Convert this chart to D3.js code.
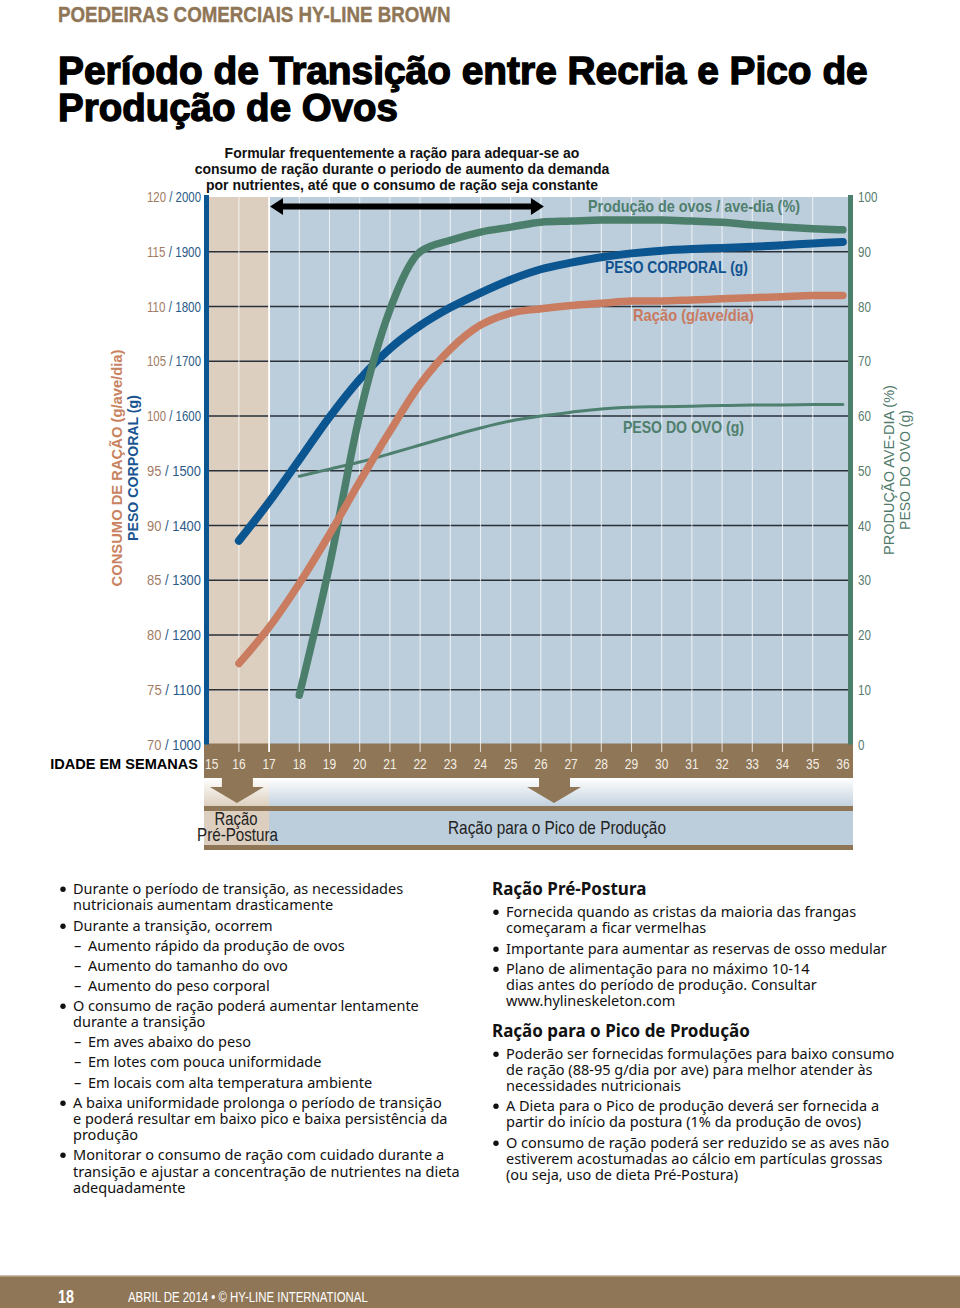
<!DOCTYPE html>
<html>
<head>
<meta charset="utf-8">
<script src="https://cdn.jsdelivr.net/npm/d3@7"></script>
<style>
  body { margin: 0; background: #fff; }
  svg { display: block; }
</style>
</head>
<body>
<script>
// Hy-Line Brown: transition period chart (recria -> pico de produção)

// weeks on the x axis
const weekTicks = [15, 16, 17, 18, 19, 20, 21, 22, 23, 24, 25, 26, 27, 28, 29, 30, 31, 32, 33, 34, 35, 36];

// body weight (g) and feed (g/ave/dia), weeks 16-36
const bwWeeks = [16, 17, 18, 19, 20, 21, 22, 23, 24, 25, 26, 27, 28, 29, 30, 31, 32, 33, 34, 35, 36];
const bodyWeight = [1372, 1443, 1520, 1598, 1667, 1723, 1765, 1798, 1825, 1849, 1868, 1880, 1890, 1897, 1902, 1905, 1907, 1909, 1912, 1915, 1918];
const feed = [77.4, 80.7, 84.7, 89.2, 94.0, 98.6, 102.9, 106.1, 108.3, 109.4, 109.8, 110.1, 110.3, 110.5, 110.5, 110.6, 110.7, 110.8, 110.9, 111.0, 111.0];

// hen-day production (%) and egg weight (g), weeks 18-36
const prodWeeks = [18, 19, 20, 21, 22, 23, 24, 25, 26, 27, 28, 29, 30, 31, 32, 33, 34, 35, 36];
const production = [9.0, 32.7, 60.2, 79.4, 90.0, 92.1, 93.6, 94.5, 95.4, 95.6, 95.8, 95.8, 95.8, 95.6, 95.4, 94.9, 94.5, 94.2, 94.0];
const eggWeight = [49.0, 50.3, 51.6, 53.1, 54.7, 56.3, 57.8, 59.1, 60.0, 60.7, 61.3, 61.6, 61.7, 61.8, 61.9, 62.0, 62.0, 62.1, 62.1];

// axis tick labels
const feedTicks = [70, 75, 80, 85, 90, 95, 100, 105, 110, 115, 120];
const bwTicks = [1000, 1100, 1200, 1300, 1400, 1500, 1600, 1700, 1800, 1900, 2000];
const rightTicks = [0, 10, 20, 30, 40, 50, 60, 70, 80, 90, 100];

const preLayWeeks = [15, 17];         // Ração Pré-Postura band
const transitionSpan = [17.03, 26.1]; // black double arrow
const arrowWeeks = [16, 26.5];        // brown down arrows

const leftBullets = [
  { t: "Durante o período de transição, as necessidades", lvl: 1 },
  { t: "nutricionais aumentam drasticamente", lvl: 0 },
  { t: "Durante a transição, ocorrem", lvl: 1 },
  { t: "Aumento rápido da produção de ovos", lvl: 2 },
  { t: "Aumento do tamanho do ovo", lvl: 2 },
  { t: "Aumento do peso corporal", lvl: 2 },
  { t: "O consumo de ração poderá aumentar lentamente", lvl: 1 },
  { t: "durante a transição", lvl: 0 },
  { t: "Em aves abaixo do peso", lvl: 2 },
  { t: "Em lotes com pouca uniformidade", lvl: 2 },
  { t: "Em locais com alta temperatura ambiente", lvl: 2 },
  { t: "A baixa uniformidade prolonga o período de transição", lvl: 1 },
  { t: "e poderá resultar em baixo pico e baixa persistência da", lvl: 0 },
  { t: "produção", lvl: 0 },
  { t: "Monitorar o consumo de ração com cuidado durante a", lvl: 1 },
  { t: "transição e ajustar a concentração de nutrientes na dieta", lvl: 0 },
  { t: "adequadamente", lvl: 0 }
];
const leftY = [889, 905, 926, 946, 966, 986, 1006, 1022, 1042, 1062, 1083, 1103, 1119, 1135, 1155, 1172, 1188];

const rightBullets = [
  { t: "Ração Pré-Postura", lvl: 3 },
  { t: "Fornecida quando as cristas da maioria das frangas", lvl: 1 },
  { t: "começaram a ficar vermelhas", lvl: 0 },
  { t: "Importante para aumentar as reservas de osso medular", lvl: 1 },
  { t: "Plano de alimentação para no máximo 10-14", lvl: 1 },
  { t: "dias antes do período de produção. Consultar", lvl: 0 },
  { t: "www.hylineskeleton.com", lvl: 0 },
  { t: "Ração para o Pico de Produção", lvl: 3 },
  { t: "Poderão ser fornecidas formulações para baixo consumo", lvl: 1 },
  { t: "de ração (88-95 g/dia por ave) para melhor atender às", lvl: 0 },
  { t: "necessidades nutricionais", lvl: 0 },
  { t: "A Dieta para o Pico de produção deverá ser fornecida a", lvl: 1 },
  { t: "partir do início da postura (1% da produção de ovos)", lvl: 0 },
  { t: "O consumo de ração poderá ser reduzido se as aves não", lvl: 1 },
  { t: "estiverem acostumadas ao cálcio em partículas grossas", lvl: 0 },
  { t: "(ou seja, uso de dieta Pré-Postura)", lvl: 0 }
];
const rightY = [890, 912, 928, 949, 969, 985, 1001, 1032, 1054, 1070, 1086, 1106, 1122, 1143, 1159, 1175];

const SANS = "'Liberation Sans', Arial, Helvetica, sans-serif";
const BODY = "'Noto Sans', 'Open Sans', sans-serif";
const NARROW = 0.8; // horizontal squeeze used for the condensed labels

const brown = "#8f7656";
const green = "#4b7f6b";
const blue = "#0b5590";
const orange = "#c97c60";

const svg = d3.select("body").append("svg")
    .attr("width", 960)
    .attr("height", 1308);

// condensed text: Liberation Sans squeezed horizontally, optionally fitted to a width
function ctext(o) {
  const t = svg.append("text")
      .attr("x", 0).attr("y", 0)
      .attr("font-family", SANS)
      .attr("font-size", o.size)
      .attr("font-weight", o.weight || "normal")
      .attr("text-anchor", o.anchor || "start")
      .attr("fill", o.fill || "#000");
  if (o.parts) {
    o.parts.forEach(p => t.append("tspan").attr("fill", p.fill).text(p.t));
  } else {
    t.text(o.text);
  }
  let s = o.sx || NARROW;
  if (o.width) s = o.width / t.node().getComputedTextLength();
  t.attr("transform", `translate(${o.x},${o.y})${o.rot ? ` rotate(${o.rot})` : ""} scale(${s},1)`);
  return t;
}

const defs = svg.append("defs");
const gBlue = defs.append("linearGradient").attr("id", "fadeBlue").attr("x1", 0).attr("y1", 0).attr("x2", 0).attr("y2", 1);
gBlue.append("stop").attr("offset", "0%").attr("stop-color", "#ffffff");
gBlue.append("stop").attr("offset", "100%").attr("stop-color", "#c3d2de");
const gBeige = defs.append("linearGradient").attr("id", "fadeBeige").attr("x1", 0).attr("y1", 0).attr("x2", 0).attr("y2", 1);
gBeige.append("stop").attr("offset", "0%").attr("stop-color", "#ffffff");
gBeige.append("stop").attr("offset", "100%").attr("stop-color", "#ddd0bf");

// scales
const plotTop = 197, plotBottom = 744.5;
const x = d3.scaleLinear().domain([15, 36]).range([208.7, 842.9]);
const yRight = d3.scaleLinear().domain([0, 100]).range([plotBottom, plotTop]);
const yFeed = d3.scaleLinear().domain([70, 120]).range([plotBottom, plotTop]);
const yBW = d3.scaleLinear().domain([1000, 2000]).range([plotBottom, plotTop]);
const plotLeft = 209, plotRight = 848;

// header + title
ctext({ x: 58, y: 22, size: 21.5, weight: "bold", fill: brown, width: 393, text: "POEDEIRAS COMERCIAIS HY-LINE BROWN" })
    .attr("stroke", brown).attr("stroke-width", 0.4);

const title = svg.append("g")
    .attr("font-family", SANS).attr("font-weight", "bold").attr("font-size", 38)
    .attr("fill", "#000").attr("stroke", "#000").attr("stroke-width", 1.3);
[["Período de Transição entre Recria e Pico de", 84, 810], ["Produção de Ovos", 120.5, 340]].forEach(([s, y, w]) => {
  const t = title.append("text").attr("x", 0).attr("y", 0).text(s);
  const k = w / t.node().getComputedTextLength();
  t.attr("transform", `translate(58,${y}) scale(${k},1)`);
});

const note = svg.append("text")
    .attr("font-family", SANS).attr("font-weight", "bold").attr("font-size", 14)
    .attr("text-anchor", "middle").attr("fill", "#111");
["Formular frequentemente a ração para adequar-se ao",
 "consumo de ração durante o periodo de aumento da demanda",
 "por nutrientes, até que o consumo de ração seja constante"].forEach((s, i) => {
  note.append("tspan").attr("x", 402).attr("y", 158 + i * 16).text(s);
});

// plot background
svg.append("rect").attr("x", plotLeft).attr("y", plotTop)
    .attr("width", plotRight - plotLeft).attr("height", plotBottom - plotTop)
    .attr("fill", "#bccddb");
svg.append("rect").attr("x", plotLeft).attr("y", plotTop)
    .attr("width", x(preLayWeeks[1]) - plotLeft).attr("height", plotBottom - plotTop)
    .attr("fill", "#dccfbf");

// horizontal grid
svg.append("g").selectAll("line")
    .data(rightTicks.filter(d => d > 0 && d < 100))
    .join("line")
    .attr("x1", plotLeft).attr("x2", plotRight)
    .attr("y1", d => yRight(d)).attr("y2", d => yRight(d))
    .attr("stroke", "#28313a").attr("stroke-width", 1.3);

// brown x band
svg.append("rect").attr("x", 204).attr("y", plotBottom - 1)
    .attr("width", 649).attr("height", 778 - plotBottom + 1)
    .attr("fill", brown);

// vertical week lines (run into the band as ticks)
svg.append("g").selectAll("line")
    .data(weekTicks.filter(d => d > 15 && d < 36))
    .join("line")
    .attr("x1", d => x(d)).attr("x2", d => x(d))
    .attr("y1", plotTop).attr("y2", 752)
    .attr("stroke", "#fff")
    .attr("stroke-opacity", d => d === preLayWeeks[1] ? 1 : 0.7)
    .attr("stroke-width", d => d === preLayWeeks[1] ? 1.8 : 1.1);

// side bars
svg.append("rect").attr("x", 204).attr("y", 195).attr("width", 5).attr("height", plotBottom - 195).attr("fill", blue);
svg.append("rect").attr("x", 848).attr("y", 195).attr("width", 5).attr("height", plotBottom - 195).attr("fill", green);

// x tick labels
svg.append("g").selectAll("text")
    .data(weekTicks)
    .join("text")
    .attr("transform", d => `translate(${d === 15 ? x(d) + 3 : x(d)},769) scale(${NARROW},1)`)
    .attr("text-anchor", "middle")
    .attr("font-family", SANS).attr("font-size", 15)
    .attr("fill", "#f3eee5")
    .text(d => d);

ctext({ x: 198, y: 769, size: 15, weight: "bold", anchor: "end", width: 148, text: "IDADE EM SEMANAS" });

// left tick labels: feed / body weight
feedTicks.forEach((d, i) => {
  ctext({ x: 201, y: yFeed(d) + 5, size: 14.5, anchor: "end", width: 54,
          parts: [{ t: d, fill: "#a27c66" }, { t: " / " + bwTicks[i], fill: "#2b5b88" }] });
});

// right tick labels
svg.append("g").selectAll("text")
    .data(rightTicks)
    .join("text")
    .attr("transform", d => `translate(858,${yRight(d) + 5}) scale(${NARROW},1)`)
    .attr("font-family", SANS).attr("font-size", 14.5)
    .attr("fill", "#587c6e")
    .text(d => d);

// axis titles
ctext({ x: 122, y: 468, rot: -90, size: 15.5, weight: "bold", anchor: "middle", fill: "#c8825f", width: 237, text: "CONSUMO DE RAÇÃO (g/ave/dia)" });
ctext({ x: 138, y: 468, rot: -90, size: 15.5, weight: "bold", anchor: "middle", fill: "#1a5591", width: 146, text: "PESO CORPORAL (g)" });
ctext({ x: 894, y: 470, rot: -90, size: 15.5, anchor: "middle", fill: "#4f7a6a", width: 170, text: "PRODUÇÃO AVE-DIA (%)" });
ctext({ x: 910, y: 470, rot: -90, size: 15.5, anchor: "middle", fill: "#4f7a6a", width: 120, text: "PESO DO OVO (g)" });

// curves
function drawSeries(weeks, vals, y, color, width, curve) {
  const line = d3.line().curve(curve);
  svg.append("path")
      .attr("d", line(weeks.map((w, i) => [x(w), y(vals[i])])))
      .attr("fill", "none")
      .attr("stroke", color)
      .attr("stroke-width", width)
      .attr("stroke-linecap", "round")
      .attr("stroke-linejoin", "round");
}
const smooth = d3.curveCatmullRom.alpha(0.5);
drawSeries(prodWeeks, eggWeight, yRight, "#4e8070", 3, smooth);
drawSeries(bwWeeks, bodyWeight, yBW, blue, 8, smooth);
drawSeries(prodWeeks, production, yRight, green, 7.5, d3.curveMonotoneX);
drawSeries(bwWeeks, feed, yFeed, orange, 7.5, smooth);

// series labels
ctext({ x: 588, y: 212, size: 16, weight: "bold", fill: "#4f7f6d", width: 212, text: "Produção de ovos / ave-dia (%)" });
ctext({ x: 605, y: 273, size: 16, weight: "bold", fill: "#0f5290", width: 143, text: "PESO CORPORAL (g)" });
ctext({ x: 633, y: 321, size: 16, weight: "bold", fill: "#c87a60", width: 121, text: "Ração (g/ave/dia)" });
ctext({ x: 623, y: 433, size: 16, weight: "bold", fill: "#4f7f6d", width: 121, text: "PESO DO OVO (g)" });

// black double arrow
const ax1 = x(transitionSpan[0]), ax2 = x(transitionSpan[1]), ay = 206.5;
svg.append("line").attr("x1", ax1 + 8).attr("x2", ax2 - 8).attr("y1", ay).attr("y2", ay)
    .attr("stroke", "#000").attr("stroke-width", 6);
svg.append("path").attr("d", `M${ax1},${ay} L${ax1 + 13},${ay - 8.5} L${ax1 + 13},${ay + 8.5} Z`).attr("fill", "#000");
svg.append("path").attr("d", `M${ax2},${ay} L${ax2 - 13},${ay - 8.5} L${ax2 - 13},${ay + 8.5} Z`).attr("fill", "#000");

// feed program strip under the axis
svg.append("rect").attr("x", 204).attr("y", 778).attr("width", 649).attr("height", 28).attr("fill", "url(#fadeBlue)");
svg.append("rect").attr("x", 204).attr("y", 778).attr("width", x(preLayWeeks[1]) - 204).attr("height", 28).attr("fill", "url(#fadeBeige)");
svg.append("rect").attr("x", 204).attr("y", 806).attr("width", 649).attr("height", 5).attr("fill", brown);
svg.append("rect").attr("x", 204).attr("y", 811).attr("width", 649).attr("height", 34).attr("fill", "#bccddb");
svg.append("rect").attr("x", 204).attr("y", 811).attr("width", x(preLayWeeks[1]) - 204).attr("height", 34).attr("fill", "#dccfbf");
svg.append("rect").attr("x", 204).attr("y", 845).attr("width", 649).attr("height", 5).attr("fill", brown);

svg.append("g").selectAll("path")
    .data(arrowWeeks)
    .join("path")
    .attr("d", w => {
      const c = x(w) - 2;
      return `M${c - 15},777 L${c + 16},777 L${c + 16},787 L${c + 27},787 L${c},803 L${c - 27},787 L${c - 15},787 Z`;
    })
    .attr("fill", brown);

ctext({ x: 236, y: 824.5, size: 17.5, anchor: "middle", fill: "#222", width: 43, text: "Ração" });
ctext({ x: 237.5, y: 841, size: 17.5, anchor: "middle", fill: "#222", width: 81, text: "Pré-Postura" });
ctext({ x: 448, y: 834, size: 17.5, fill: "#222", width: 218, text: "Ração para o Pico de Produção" });

// bullet text columns
function drawColumn(items, ys, x0) {
  const g = svg.append("g").attr("font-family", BODY).attr("font-size", 14.5).attr("fill", "#111");
  items.forEach((d, i) => {
    const y = ys[i] + 5;
    if (d.lvl === 3) {
      g.append("text").attr("x", x0).attr("y", y).attr("font-weight", "bold").attr("font-size", 17).text(d.t);
      return;
    }
    if (d.lvl === 1) {
      g.append("circle").attr("cx", x0 + 4).attr("cy", y - 4.8).attr("r", 2.7).attr("fill", "#111");
    }
    if (d.lvl === 2) {
      g.append("text").attr("x", x0 + 15).attr("y", y).text("–");
    }
    g.append("text").attr("x", d.lvl === 2 ? x0 + 29 : x0 + 14).attr("y", y).text(d.t);
  });
}
drawColumn(leftBullets, leftY, 59);
drawColumn(rightBullets, rightY, 492);

// footer
svg.append("rect").attr("x", 0).attr("y", 1276).attr("width", 960).attr("height", 32).attr("fill", brown);
svg.append("rect").attr("x", 0).attr("y", 1275).attr("width", 960).attr("height", 1.5).attr("fill", "#cbbda8");
ctext({ x: 58, y: 1303, size: 18, weight: "bold", fill: "#fff", width: 16, text: "18" });
ctext({ x: 128, y: 1302, size: 14, fill: "#fff", width: 240, text: "ABRIL DE 2014  •  © HY-LINE INTERNATIONAL" });
</script>
</body>
</html>
